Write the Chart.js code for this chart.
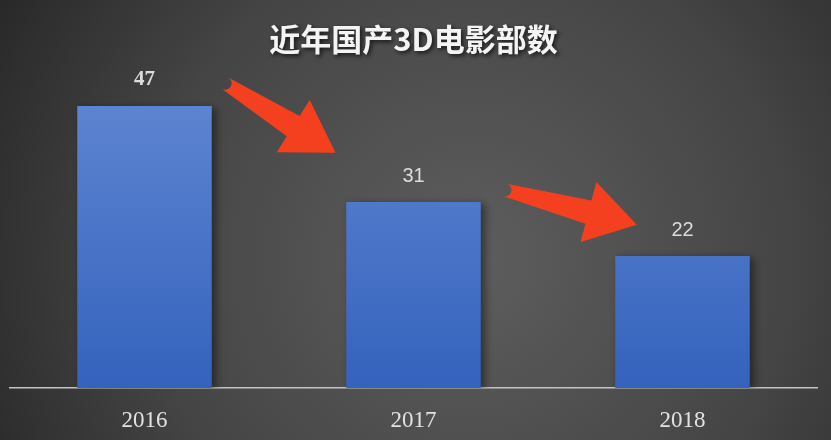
<!DOCTYPE html>
<html>
<head>
<meta charset="utf-8">
<script src="https://cdn.jsdelivr.net/npm/chart.js@4/dist/chart.umd.min.js"></script>
<style>
  html, body { margin: 0; padding: 0; background: #333; }
  #wrap { width: 831px; height: 440px; position: relative; }
</style>
</head>
<body>
<div id="wrap"><canvas id="c"></canvas></div>
<script>
const titleText = "近年国产3D电影部数";
const years = ["2016", "2017", "2018"];
const films = [47, 31, 22];
// decorative arrows: [category position, value] for tail and tip
const arrowTails = [[0.30, 50.8], [1.34, 33.0]];
const arrowTips = [[0.71, 39.2], [1.83, 27.2]];

const backdrop = {
  id: "backdrop",
  beforeDraw(chart) {
    const { ctx, width, height } = chart;
    ctx.save();
    const g = ctx.createRadialGradient(470, 260, 20, 470, 260, 560);
    g.addColorStop(0, "#5c5c5c");
    g.addColorStop(0.55, "#454545");
    g.addColorStop(1, "#262626");
    ctx.fillStyle = g;
    ctx.fillRect(0, 0, width, height);
    ctx.restore();
  },
  beforeDatasetsDraw(chart) {
    const { ctx } = chart;
    ctx.save();
    ctx.shadowColor = "rgba(0,0,0,0.45)";
    ctx.shadowBlur = 8;
    ctx.shadowOffsetX = 4;
    ctx.shadowOffsetY = 2;
  },
  afterDatasetsDraw(chart) {
    chart.ctx.restore();
  },
};

const extras = {
  id: "extras",
  afterDraw(chart) {
    const { ctx, scales } = chart;
    const meta = chart.getDatasetMeta(0);

    // title
    ctx.save();
    ctx.font = "bold 31px 'Noto Sans CJK SC', sans-serif";
    ctx.fillStyle = "#f4f4f4";
    ctx.textAlign = "center";
    ctx.textBaseline = "middle";
    ctx.shadowColor = "rgba(0,0,0,0.7)";
    ctx.shadowBlur = 4;
    ctx.shadowOffsetX = 2;
    ctx.shadowOffsetY = 2;
    ctx.fillText(titleText, chart.width / 2 - 2, 39);
    ctx.restore();

    // value labels
    ctx.save();
    ctx.fillStyle = "#dcdcdc";
    ctx.textAlign = "center";
    ctx.textBaseline = "middle";
    meta.data.forEach((bar, i) => {
      ctx.font = i === 0
        ? "bold 21px 'Liberation Serif', serif"
        : "20px 'Liberation Sans', sans-serif";
      ctx.fillText(String(films[i]), bar.x, bar.y - 26);
    });
    ctx.restore();

    // red arrows
    ctx.save();
    ctx.fillStyle = "#f4401e";
    arrowTails.forEach((t, i) => {
      const tip = arrowTips[i];
      const x0 = scales.x.getPixelForValue(t[0]);
      const y0 = scales.y.getPixelForValue(t[1]);
      const x1 = scales.x.getPixelForValue(tip[0]);
      const y1 = scales.y.getPixelForValue(tip[1]);
      const len = Math.hypot(x1 - x0, y1 - y0);
      const ux = (x1 - x0) / len, uy = (y1 - y0) / len;
      const px = -uy, py = ux;
      const headLen = 50, headW = 31, tailW = 6.5, neckW = 12;
      const bx = x1 - ux * headLen, by = y1 - uy * headLen;
      ctx.beginPath();
      ctx.moveTo(x0 + px * tailW, y0 + py * tailW);
      ctx.lineTo(bx + px * neckW, by + py * neckW);
      ctx.lineTo(bx + px * headW, by + py * headW);
      ctx.lineTo(x1, y1);
      ctx.lineTo(bx - px * headW, by - py * headW);
      ctx.lineTo(bx - px * neckW, by - py * neckW);
      ctx.lineTo(x0 - px * tailW, y0 - py * tailW);
      ctx.arc(x0, y0, tailW, Math.atan2(-py, -px), Math.atan2(py, px), false);
      ctx.closePath();
      ctx.fill();
    });
    ctx.restore();
  },
};

function barFill(context) {
  const chart = context.chart;
  const area = chart.chartArea;
  if (!area) return "#4a72c6";
  const g = chart.ctx.createLinearGradient(0, area.top, 0, area.bottom);
  g.addColorStop(0, "#5f86d1");
  g.addColorStop(1, "#3462bd");
  return g;
}

new Chart(document.getElementById("c"), {
  type: "bar",
  data: {
    labels: years,
    datasets: [{
      data: films,
      backgroundColor: barFill,
      borderWidth: 0,
      barPercentage: 0.5,
      categoryPercentage: 1,
    }],
  },
  options: {
    responsive: true,
    maintainAspectRatio: false,
    animation: false,
    layout: { padding: { top: 88, left: 10, right: 14, bottom: 0 } },
    plugins: {
      legend: { display: false },
      tooltip: { enabled: false },
      title: { display: false },
    },
    scales: {
      x: {
        afterFit(scale) { scale.height = 52; },
        grid: { display: false, drawTicks: false },
        border: { display: true, color: "#c4c4c4", width: 1.5 },
        ticks: {
          color: "#e2e2e2",
          padding: 19,
          font: { family: "'Liberation Serif', serif", size: 23 },
        },
      },
      y: {
        display: false,
        min: 0,
        max: 50,
      },
    },
  },
  plugins: [backdrop, extras],
});
</script>
</body>
</html>
